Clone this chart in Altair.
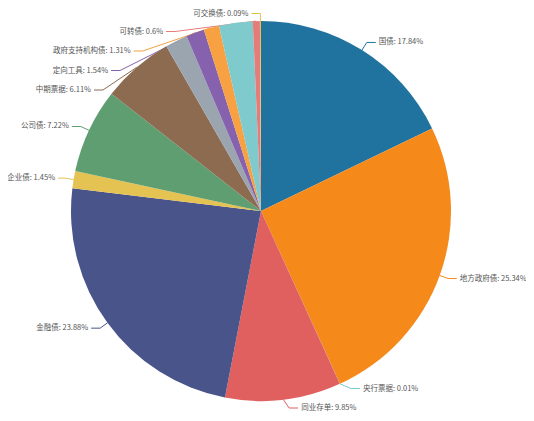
import math
import altair as alt
import pandas as pd

# ---- data ----
names = ["国债", "地方政府债", "央行票据", "同业存单", "金融债", "企业债", "公司债",
         "中期票据", "短期融资券", "定向工具", "政府支持机构债", "资产支持证券", "可转债", "可交换债"]
values = [17.84, 25.34, 0.01, 9.85, 23.88, 1.45, 7.22, 6.11, 1.90, 1.54, 1.31, 2.86, 0.6, 0.09]
show_label = [True, True, True, True, True, True, True, True, False, True, True, False, True, True]
colors = ["#21739F", "#F5891A", "#7ECACC", "#E05F5F", "#48548A", "#E5C352", "#5F9E71",
          "#8C6B51", "#9AA5AF", "#8661AD", "#F7A142", "#7ECACC", "#E57C7A", "#E5C352"]

# ---- layout constants ----
W, H = 518, 405
CX, CY = 253, 203
R_PIE = 190
R_ELBOW = 199
LEN2 = 9
TEXT_GAP = 3
GAP = 19.5
FONT = "Noto Sans CJK SC"
FONT_SIZE = 7.5
TOP_LIMIT = 5.5
BOTTOM_LIMIT = H - 5


def text_width(s):
    w = 0.0
    for ch in s:
        if ord(ch) > 0x2E80:
            w += 1.0
        elif ch.isdigit():
            w += 0.55
        elif ch == "%":
            w += 0.85
        else:
            w += 0.26
    return w * FONT_SIZE


total = sum(values)
rows = []
cum = 0.0
for i, (n, v) in enumerate(zip(names, values)):
    mid = (cum + v / 2) / total * 2 * math.pi
    cum += v
    rows.append(dict(idx=i, name=n, value=v, mid=mid,
                     label=f"{n}: {v:g}%", show=show_label[i]))


# ECharts-like label placement: stack labels on each side so they do not overlap
def place(side_rows):
    side_rows = sorted(side_rows, key=lambda r: CY - R_ELBOW * math.cos(r["mid"]))
    ys = [CY - R_ELBOW * math.cos(r["mid"]) for r in side_rows]
    for k in range(1, len(ys)):
        ys[k] = max(ys[k], ys[k - 1] + GAP)
    if ys and ys[-1] > BOTTOM_LIMIT:
        ys[-1] = BOTTOM_LIMIT
        for k in range(len(ys) - 2, -1, -1):
            ys[k] = min(ys[k], ys[k + 1] - GAP)
    for r, y in zip(side_rows, ys):
        r["ly"] = y


labeled = [r for r in rows if r["show"]]
left = [r for r in labeled if math.sin(r["mid"]) < 0]
right = [r for r in labeled if math.sin(r["mid"]) >= 0]
place(left)
place(right)

line_rows, text_rows = [], []
for r in labeled:
    sgn = -1 if math.sin(r["mid"]) < 0 else 1
    ax = CX + R_PIE * math.sin(r["mid"])
    ay = CY - R_PIE * math.cos(r["mid"])
    dy = r["ly"] - CY
    dx = math.sqrt(max(R_ELBOW ** 2 - dy ** 2, 0))
    ex = CX + sgn * dx
    ey = max(r["ly"], TOP_LIMIT)  # keep the text inside the top edge
    fx = ex + sgn * LEN2
    tw = text_width(r["label"])
    # shorten the second leader segment when the text would leave the chart
    if sgn < 0 and fx - TEXT_GAP - tw < 0:
        fx = TEXT_GAP + tw
    if sgn > 0 and fx + TEXT_GAP + tw > W:
        fx = W - TEXT_GAP - tw
    for s, (px, py) in enumerate([(ax, ay), (ex, ey), (fx, ey)]):
        line_rows.append(dict(name=r["name"], seq=s, x=px, y=py))
    text_rows.append(dict(name=r["name"], label=r["label"], x=fx + sgn * TEXT_GAP, y=ey,
                          side="left" if sgn < 0 else "right"))

df = pd.DataFrame(rows)
lines = pd.DataFrame(line_rows)
texts = pd.DataFrame(text_rows)

color_scale = alt.Scale(domain=names, range=colors)
xs = alt.Scale(domain=[0, W], nice=False, zero=False)
ys = alt.Scale(domain=[0, H], nice=False, zero=False, reverse=True)

leader = alt.Chart(lines).mark_line(strokeWidth=1).encode(
    x=alt.X("x:Q", scale=xs, axis=None),
    y=alt.Y("y:Q", scale=ys, axis=None),
    color=alt.Color("name:N", scale=color_scale, legend=None),
    detail="name:N",
    order="seq:Q",
)

pie = alt.Chart(df).mark_arc(outerRadius=R_PIE).encode(
    theta=alt.Theta("value:Q", stack=True),
    color=alt.Color("name:N", scale=color_scale, legend=None),
    order=alt.Order("idx:Q"),
    x=alt.value(CX),
    y=alt.value(CY),
    tooltip=["name:N", "value:Q"],
)


def text_layer(side, align):
    return alt.Chart(texts[texts["side"] == side]).mark_text(
        align=align, baseline="middle", font=FONT, fontSize=FONT_SIZE, color="#555555"
    ).encode(
        x=alt.X("x:Q", scale=xs, axis=None),
        y=alt.Y("y:Q", scale=ys, axis=None),
        text="label:N",
    )


chart = alt.layer(leader, pie, text_layer("left", "right"), text_layer("right", "left")).properties(
    width=W, height=H, padding=0, autosize=alt.AutoSizeParams(type="none"),
    background="white",
).configure_view(stroke=None)

chart.save("out.html", embed_options={"renderer": "svg", "actions": False})
